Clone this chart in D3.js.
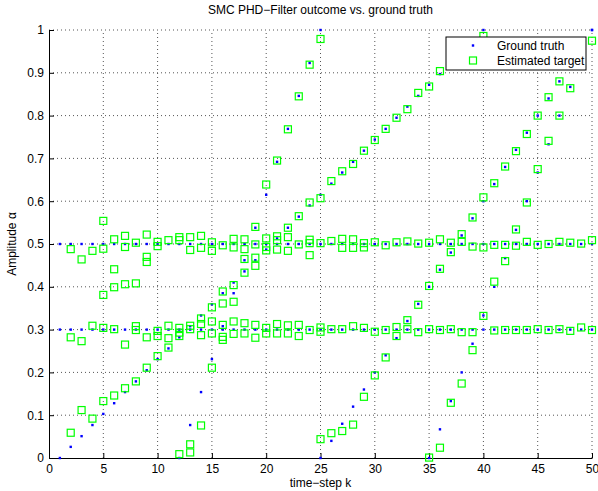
<!DOCTYPE html>
<html>
<head>
<meta charset="utf-8">
<script src="https://cdn.jsdelivr.net/npm/d3@7/dist/d3.min.js"></script>
<style>
  body { margin: 0; background: #fff; }
  text { font-family: "Liberation Sans", Arial, sans-serif; }
</style>
</head>
<body>
<div id="chart"></div>
<script>
// tick labels
var xTicks = [0, 5, 10, 15, 20, 25, 30, 35, 40, 45, 50];
var yTicks = [0, 0.1, 0.2, 0.3, 0.4, 0.5, 0.6, 0.7, 0.8, 0.9, 1];

// ground truth tracks: first time-step and amplitude per step
var truthStart = [1, 1, 1, 12, 25, 35];
var truthFlatHigh = [0.5, 0.5, 0.5, 0.5, 0.5, 0.5, 0.5, 0.5, 0.5, 0.5, 0.5, 0.5, 0.5, 0.5, 0.5, 0.5, 0.5, 0.5, 0.5, 0.5, 0.5, 0.5, 0.5, 0.5, 0.5,
                     0.5, 0.5, 0.5, 0.5, 0.5, 0.5, 0.5, 0.5, 0.5, 0.5, 0.5, 0.5, 0.5, 0.5, 0.5, 0.5, 0.5, 0.5, 0.5, 0.5, 0.5, 0.5, 0.5, 0.5, 0.5];
var truthFlatLow = [0.3, 0.3, 0.3, 0.3, 0.3, 0.3, 0.3, 0.3, 0.3, 0.3, 0.3, 0.3, 0.3, 0.3, 0.3, 0.3, 0.3, 0.3, 0.3, 0.3, 0.3, 0.3, 0.3, 0.3, 0.3,
                    0.3, 0.3, 0.3, 0.3, 0.3, 0.3, 0.3, 0.3, 0.3, 0.3, 0.3, 0.3, 0.3, 0.3, 0.3, 0.3, 0.3, 0.3, 0.3, 0.3, 0.3, 0.3, 0.3, 0.3, 0.3];
var truthRampA = [0, 0.026, 0.051, 0.077, 0.103, 0.128, 0.154, 0.179, 0.205, 0.231, 0.256, 0.282, 0.308, 0.333, 0.359, 0.385, 0.41, 0.436, 0.462, 0.487,
                  0.513, 0.538, 0.564, 0.59, 0.615, 0.641, 0.667, 0.692, 0.718, 0.744, 0.769, 0.795, 0.821, 0.846, 0.872, 0.897, 0.923, 0.949, 0.974, 1.0];
var truthRampB = [0, 0.077, 0.154, 0.231, 0.308, 0.385, 0.462, 0.538, 0.615, 0.692, 0.769, 0.846, 0.923, 1.0];
var truthRampC = [0, 0.04, 0.08, 0.12, 0.16, 0.2, 0.24, 0.28, 0.32, 0.36, 0.4, 0.44, 0.48, 0.52, 0.56, 0.6, 0.64, 0.68, 0.72,
                  0.76, 0.8, 0.84, 0.88, 0.92, 0.96, 1.0];
var truthRampD = [0, 0.067, 0.133, 0.2, 0.267, 0.333, 0.4, 0.467, 0.533, 0.6, 0.667, 0.733, 0.8, 0.867, 0.933, 1.0];

// estimated targets, one list per time-step k = 1..50
var estimates = [
  [],
  [0.488, 0.282, 0.059],
  [0.464, 0.273, 0.112],
  [0.484, 0.309, 0.092],
  [0.554, 0.489, 0.381, 0.304, 0.133],
  [0.511, 0.441, 0.399, 0.301, 0.146],
  [0.519, 0.493, 0.406, 0.265, 0.163],
  [0.503, 0.408, 0.308, 0.299, 0.179],
  [0.522, 0.470, 0.458, 0.282, 0.211],
  [0.505, 0.495, 0.297, 0.285, 0.238],
  [0.509, 0.309, 0.280, 0.258],
  [0.516, 0.509, 0.304, 0.293, 0.285, 0.009],
  [0.516, 0.486, 0.309, 0.301, 0.032, 0.013],
  [0.519, 0.491, 0.326, 0.313, 0.287, 0.076],
  [0.504, 0.484, 0.352, 0.319, 0.291, 0.211],
  [0.497, 0.389, 0.361, 0.311, 0.283, 0.276],
  [0.512, 0.492, 0.404, 0.365, 0.319, 0.290],
  [0.511, 0.488, 0.465, 0.433, 0.315, 0.291],
  [0.540, 0.499, 0.468, 0.449, 0.311, 0.281],
  [0.639, 0.513, 0.493, 0.485, 0.304, 0.291],
  [0.695, 0.518, 0.509, 0.487, 0.313, 0.291],
  [0.768, 0.538, 0.516, 0.484, 0.310, 0.291],
  [0.845, 0.565, 0.499, 0.311, 0.285],
  [0.919, 0.597, 0.510, 0.502, 0.474, 0.299],
  [0.979, 0.607, 0.502, 0.305, 0.295, 0.044],
  [0.647, 0.507, 0.301, 0.058],
  [0.670, 0.512, 0.491, 0.301, 0.063],
  [0.687, 0.511, 0.491, 0.308, 0.078],
  [0.718, 0.502, 0.492, 0.304, 0.143],
  [0.743, 0.504, 0.295, 0.193],
  [0.769, 0.497, 0.299, 0.235],
  [0.795, 0.504, 0.306, 0.285],
  [0.815, 0.506, 0.322, 0.301],
  [0.853, 0.501, 0.358, 0.294],
  [0.868, 0.503, 0.402, 0.301, 0.001],
  [0.904, 0.511, 0.442, 0.299, 0.024],
  [0.503, 0.481, 0.301, 0.129],
  [0.523, 0.505, 0.294, 0.174],
  [0.562, 0.494, 0.294, 0.252],
  [0.986, 0.609, 0.492, 0.332],
  [0.642, 0.498, 0.412, 0.298],
  [0.681, 0.498, 0.460, 0.299],
  [0.717, 0.534, 0.496, 0.299],
  [0.757, 0.597, 0.505, 0.299],
  [0.800, 0.675, 0.498, 0.301],
  [0.843, 0.741, 0.500, 0.299],
  [0.880, 0.800, 0.505, 0.301],
  [0.864, 0.503, 0.297],
  [0.501, 0.305],
  [0.975, 0.509, 0.299]
];

var W = 598, H = 491;
var margin = {top: 30, right: 6, bottom: 33, left: 49};

var svg = d3.select("#chart")
  .append("svg")
  .attr("width", W)
  .attr("height", H);

var x = d3.scaleLinear()
  .domain([0, 50])
  .range([margin.left, W - margin.right]);

var y = d3.scaleLinear()
  .domain([0, 1])
  .range([H - margin.bottom, margin.top]);

// dotted grid
svg.append("g")
  .selectAll("line")
  .data(xTicks.slice(1))
  .enter()
  .append("line")
    .attr("x1", function(d) { return x(d); })
    .attr("x2", function(d) { return x(d); })
    .attr("y1", y(0))
    .attr("y2", y(1))
    .style("stroke", "#555")
    .style("stroke-width", 1)
    .style("stroke-dasharray", "1,3");

svg.append("g")
  .selectAll("line")
  .data(yTicks.slice(1))
  .enter()
  .append("line")
    .attr("x1", x(0))
    .attr("x2", x(50))
    .attr("y1", function(d) { return y(d); })
    .attr("y2", function(d) { return y(d); })
    .style("stroke", "#555")
    .style("stroke-width", 1)
    .style("stroke-dasharray", "1,3");

// axes, ticks pointing inward
var xAxis = svg.append("g")
  .attr("transform", "translate(0," + y(0) + ")")
  .call(d3.axisBottom(x).tickValues(xTicks).tickFormat(d3.format("d")).tickSizeInner(-5).tickSizeOuter(0).tickPadding(6));

var yAxis = svg.append("g")
  .attr("transform", "translate(" + x(0) + ",0)")
  .call(d3.axisLeft(y).tickValues(yTicks).tickFormat(function(d) { return d === 0 || d === 1 ? d : d3.format(".1f")(d); })
    .tickSizeInner(-5).tickSizeOuter(0).tickPadding(5));

[xAxis, yAxis].forEach(function(a) {
  a.selectAll("text").style("font-size", "12px").style("fill", "#000").style("font-family", "'Liberation Sans', Arial, sans-serif");
  a.selectAll("line").style("stroke", "#000");
  a.select(".domain").style("stroke", "#000");
});

// ground truth dots
var truthTracks = [truthFlatHigh, truthFlatLow, truthRampA, truthRampB, truthRampC, truthRampD];
var truthPoints = [];
truthTracks.forEach(function(track, t) {
  track.forEach(function(v, i) {
    truthPoints.push({k: truthStart[t] + i, v: v});
  });
});

svg.append("g")
  .selectAll("rect")
  .data(truthPoints)
  .enter()
  .append("rect")
    .attr("x", function(d) { return x(d.k) - 1.2; })
    .attr("y", function(d) { return y(d.v) - 1.2; })
    .attr("width", 2.4)
    .attr("height", 2.4)
    .style("fill", "#0000ff");

// estimated targets
var estPoints = [];
estimates.forEach(function(list, i) {
  list.forEach(function(v) {
    estPoints.push({k: i + 1, v: v});
  });
});

svg.append("g")
  .selectAll("rect")
  .data(estPoints)
  .enter()
  .append("rect")
    .attr("x", function(d) { return x(d.k) - 3.5; })
    .attr("y", function(d) { return y(d.v) - 3.5; })
    .attr("width", 7)
    .attr("height", 7)
    .style("fill", "none")
    .style("stroke", "#00ff00")
    .style("stroke-width", 1.2);

// title and labels
svg.append("text")
  .attr("x", (x(0) + x(50)) / 2)
  .attr("y", 14)
  .attr("text-anchor", "middle")
  .style("font-size", "12px")
  .text("SMC PHD\u2212Filter outcome vs. ground truth");

svg.append("text")
  .attr("x", (x(0) + x(50)) / 2)
  .attr("y", 487)
  .attr("text-anchor", "middle")
  .style("font-size", "12px")
  .text("time\u2212step k");

svg.append("text")
  .attr("transform", "translate(16," + (y(0) + y(1)) / 2 + ") rotate(-90)")
  .attr("text-anchor", "middle")
  .style("font-size", "12px")
  .text("Amplitude \u03b1");

// legend
var legend = svg.append("g").attr("transform", "translate(446,37)");
legend.append("rect")
  .attr("width", 140)
  .attr("height", 33)
  .style("fill", "#fff")
  .style("stroke", "#000")
  .style("stroke-width", 1);
legend.append("rect")
  .attr("x", 25.8)
  .attr("y", 7.3)
  .attr("width", 2.4)
  .attr("height", 2.4)
  .style("fill", "#0000ff");
legend.append("rect")
  .attr("x", 23.5)
  .attr("y", 20)
  .attr("width", 7)
  .attr("height", 7)
  .style("fill", "none")
  .style("stroke", "#00ff00")
  .style("stroke-width", 1.2);
legend.append("text")
  .attr("x", 51)
  .attr("y", 13)
  .style("font-size", "12px")
  .text("Ground truth");
legend.append("text")
  .attr("x", 51)
  .attr("y", 28)
  .style("font-size", "12px")
  .text("Estimated target");
</script>
</body>
</html>
